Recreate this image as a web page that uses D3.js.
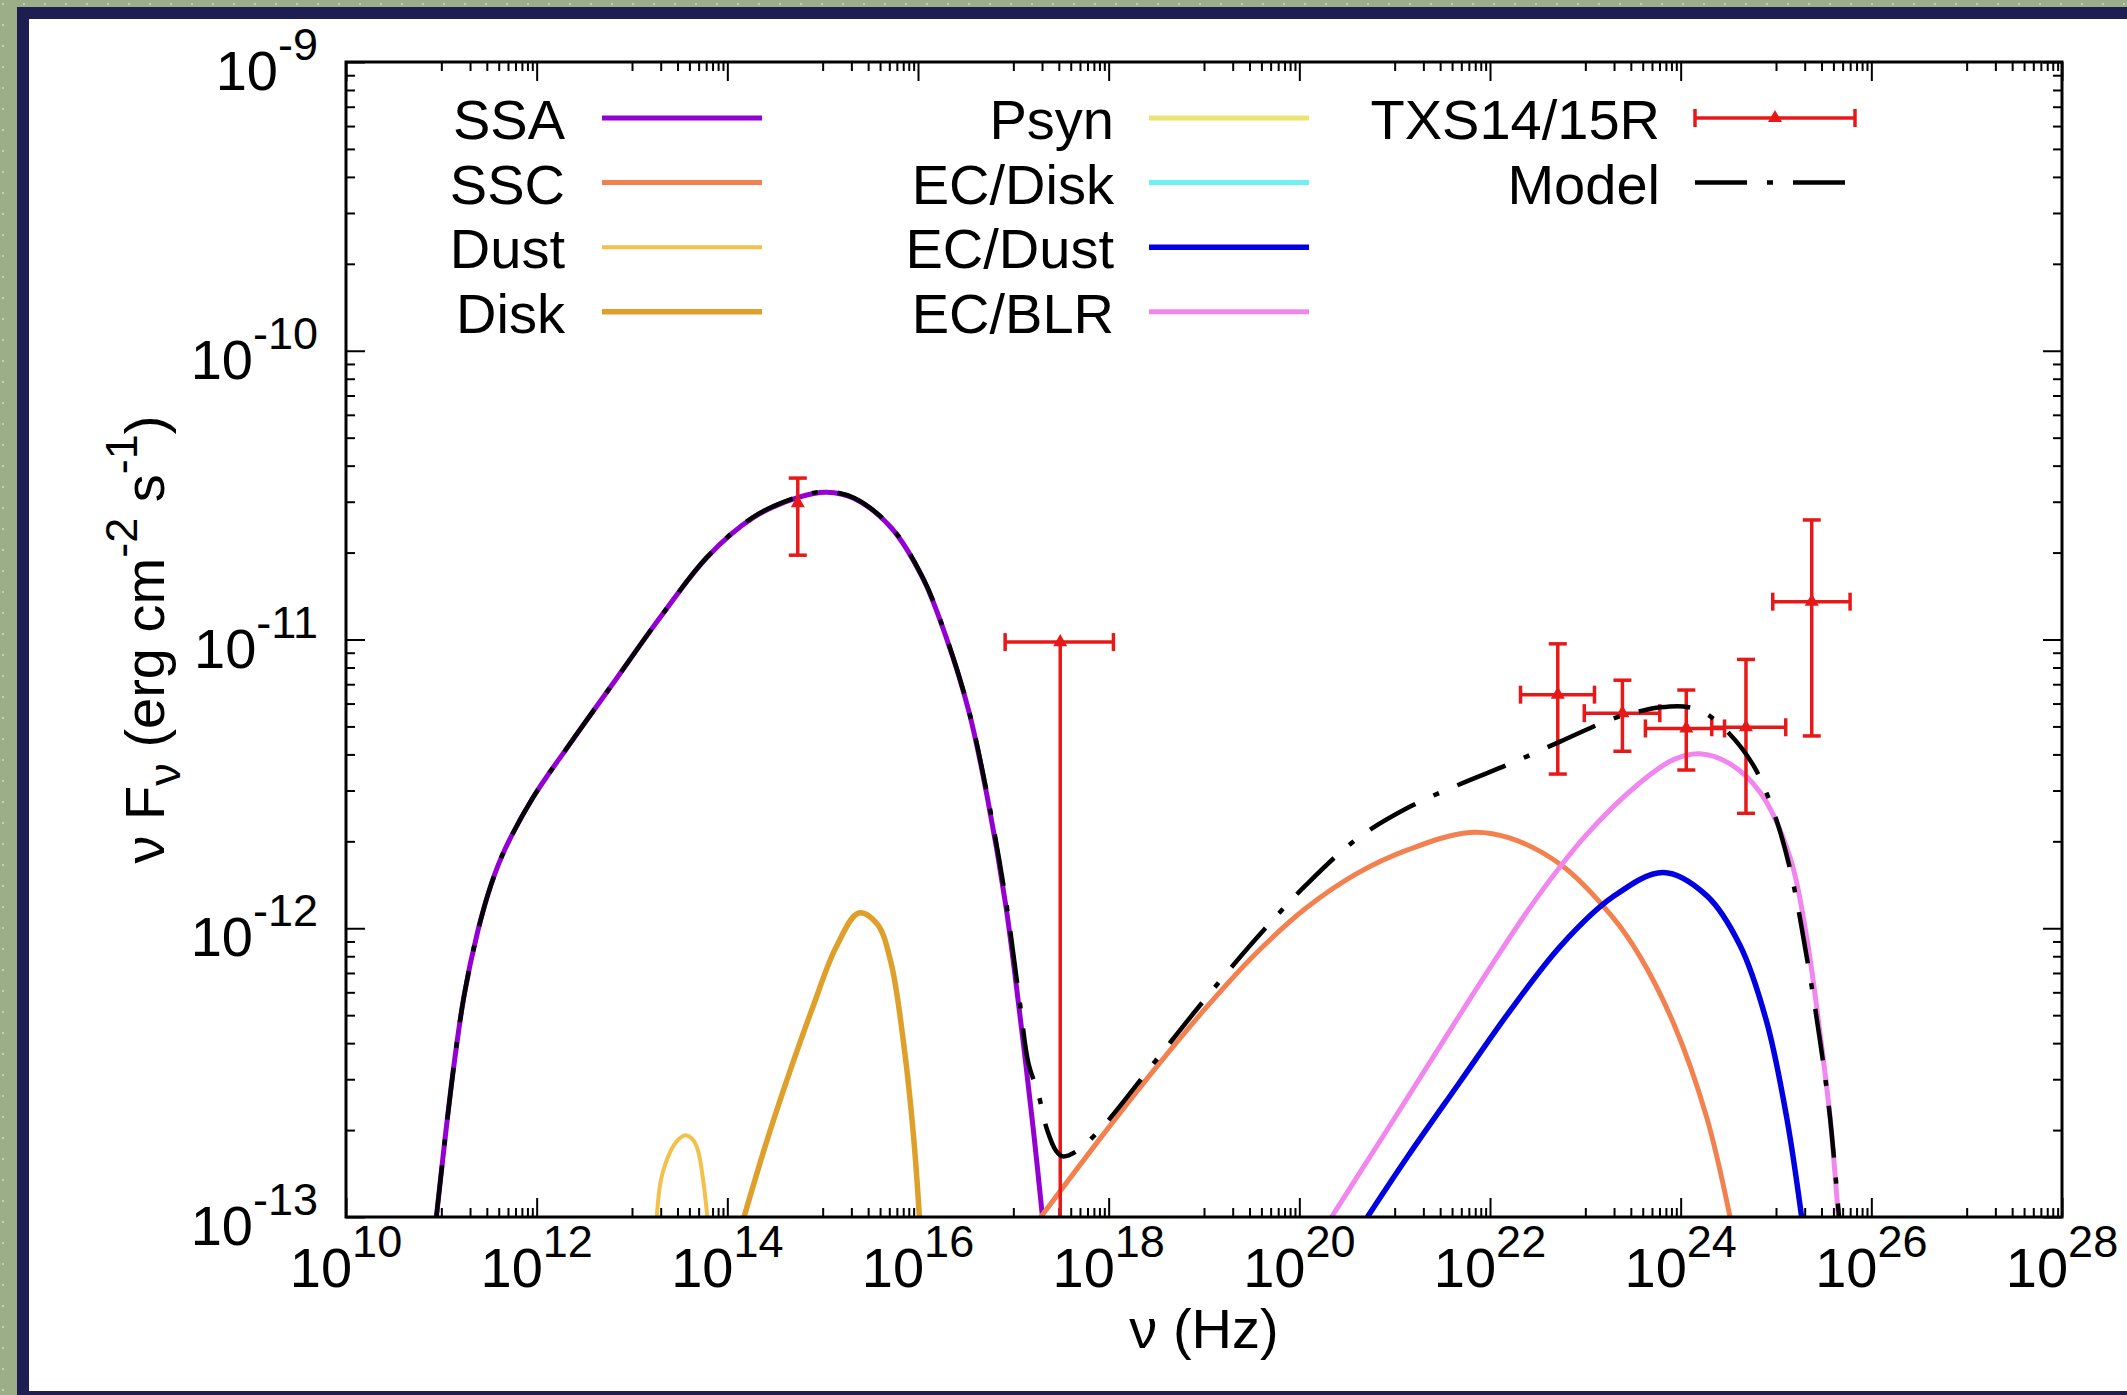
<!DOCTYPE html>
<html>
<head>
<meta charset="utf-8">
<script src="https://cdn.jsdelivr.net/npm/d3@7"></script>
<style>
	body { margin: 0; background: #ffffff; }
	svg text { font-family: "Liberation Sans", Arial, Helvetica, sans-serif; white-space: pre; }
</style>
</head>
<body>
<svg id="chart" width="2127" height="1395"></svg>
<script>

//****************************************************************************************************************************//
// Data : [log10 nu (Hz), log10 nuFnu (erg cm^-2 s^-1)]

var ssa = [[10.948,-13.0],[11.117,-12.513],[11.238,-12.235],[11.381,-12.012],[11.526,-11.845],[11.671,-11.724],
	[11.96,-11.548],[12.345,-11.363],[12.827,-11.14],[13.308,-10.918],[13.79,-10.714],[14.271,-10.578],[14.753,-10.507],
	[15.042,-10.49],[15.331,-10.512],[15.717,-10.612],[16.054,-10.79],[16.295,-10.992],[16.535,-11.251],[16.728,-11.548],
	[16.92,-11.919],[17.065,-12.29],[17.21,-12.698],[17.306,-13.0]];

var ssc = [[17.288,-13.0],[17.93,-12.72],[18.466,-12.495],[19.001,-12.283],[19.536,-12.09],[20.071,-11.93],
	[20.607,-11.81],[21.142,-11.728],[21.785,-11.668],[22.212,-11.688],[22.747,-11.781],[23.282,-11.96],
	[23.577,-12.10],[23.926,-12.33],[24.273,-12.655],[24.518,-13.0]];

var dust = [[13.26,-13.0],[13.308,-12.865],[13.405,-12.772],[13.477,-12.735],[13.563,-12.717],[13.645,-12.735],
	[13.694,-12.772],[13.751,-12.884],[13.79,-13.0]];

var disk = [[14.175,-13.0],[14.416,-12.735],[14.658,-12.494],[14.898,-12.272],[15.139,-12.067],[15.379,-11.947],
	[15.572,-11.985],[15.717,-12.12],[15.861,-12.43],[15.957,-12.735],[16.015,-13.0]];

var psyn = [];		// below 1e-13 over the whole plot
var ecDisk = [];	// below 1e-13 over the whole plot

var ecDust = [[20.714,-13.0],[21.142,-12.788],[21.677,-12.536],[22.212,-12.285],[22.747,-12.059],[23.282,-11.893],
	[23.818,-11.807],[24.273,-11.887],[24.622,-12.059],[24.902,-12.324],[25.112,-12.655],[25.269,-13.0]];

var ecBlr = [[20.338,-13.0],[20.875,-12.722],[21.41,-12.443],[21.945,-12.165],[22.48,-11.9],[23.015,-11.675],
	[23.551,-11.502],[23.925,-11.416],[24.2,-11.396],[24.514,-11.43],[24.835,-11.53],[25.147,-11.754],
	[25.322,-12.032],[25.462,-12.364],[25.567,-12.655],[25.654,-13.0]];

var model = [[10.948,-13.0],[11.117,-12.513],[11.238,-12.235],[11.381,-12.012],[11.526,-11.845],[11.671,-11.724],
	[11.96,-11.548],[12.345,-11.363],[12.827,-11.14],[13.308,-10.918],[13.79,-10.714],[14.271,-10.576],[14.753,-10.505],
	[15.042,-10.488],[15.331,-10.51],[15.717,-10.61],[16.054,-10.788],[16.295,-10.99],[16.535,-11.248],[16.728,-11.54],
	[16.92,-11.9],[17.065,-12.25],[17.16,-12.47],[17.258,-12.568],[17.354,-12.698],[17.45,-12.772],[17.52,-12.79],
	[17.663,-12.772],[17.93,-12.69],[18.466,-12.47],[19.0,-12.25],[19.536,-12.04],[20.071,-11.85],[20.606,-11.69],
	[21.142,-11.582],[21.677,-11.502],[22.212,-11.43],[22.747,-11.352],[23.282,-11.275],[23.577,-11.248],[23.787,-11.235],
	[24.03,-11.232],[24.24,-11.252],[24.485,-11.317],[24.763,-11.436],[24.973,-11.595],[25.147,-11.794],[25.322,-12.099],
	[25.462,-12.39],[25.567,-12.655],[25.661,-13.0]];

// TXS 0506+056 data (log values), fLo = -14 means the bar runs off the bottom
var txsPoints = [
	{nu:14.739, f:-10.528, nuLo:14.739, nuHi:14.739, fLo:-10.708, fHi:-10.441},
	{nu:17.492, f:-11.009, nuLo:16.914, nuHi:18.05,  fLo:-14,     fHi:-11.009},
	{nu:22.711, f:-11.191, nuLo:22.32,  nuHi:23.096, fLo:-11.466, fHi:-11.015},
	{nu:23.389, f:-11.255, nuLo:22.989, nuHi:23.781, fLo:-11.387, fHi:-11.141},
	{nu:24.059, f:-11.308, nuLo:23.63,  nuHi:24.46,  fLo:-11.452, fHi:-11.175},
	{nu:24.685, f:-11.304, nuLo:24.326, nuHi:25.102, fLo:-11.602, fHi:-11.069},
	{nu:25.375, f:-10.869, nuLo:24.966, nuHi:25.777, fLo:-11.334, fHi:-10.586}
];

var xTickExps = [10,12,14,16,18,20,22,24,26,28];
var yTickExps = [-9,-10,-11,-12,-13];

var legendColumns = [["SSA","SSC","Dust","Disk"], ["Psyn","EC/Disk","EC/Dust","EC/BLR"], ["TXS14/15R","Model"]];

var seriesData = {"SSA": ssa, "SSC": ssc, "Dust": dust, "Disk": disk, "Psyn": psyn,
	"EC/Disk": ecDisk, "EC/Dust": ecDust, "EC/BLR": ecBlr};
var seriesOrder = ["SSA","SSC","Dust","Disk","Psyn","EC/Disk","EC/Dust","EC/BLR"];

//****************************************************************************************************************************//
// Styles

var styles = {
	"SSA":     {color: "#9400d3", width: 5},
	"SSC":     {color: "#f2814f", width: 5},
	"Dust":    {color: "#f3c14b", width: 4},
	"Disk":    {color: "#dea02a", width: 5.5},
	"Psyn":    {color: "#ece373", width: 5},
	"EC/Disk": {color: "#6ff0f3", width: 5},
	"EC/Dust": {color: "#0000e0", width: 5.5},
	"EC/BLR":  {color: "#f186ee", width: 5},
	"Model":   {color: "#000000", width: 4.5, dash: "52,20,6,20"},
	"TXS14/15R": {color: "#e81818", width: 3.5}
};

var width = 2127, height = 1395;
var plot = {left: 346, right: 2062, top: 62, bottom: 1217};
var fontSize = 56, supSize = 45;

var canvas = d3.select("#chart");

//****************************************************************************************************************************//
// Page background

canvas.append("rect")
	.attr("width", width)
	.attr("height", height)
	.attr("fill", "#9bae87");

var defs = canvas.append("defs");
var dots = defs.append("pattern")
	.attr("id", "dots")
	.attr("width", 21)
	.attr("height", 21)
	.attr("patternUnits", "userSpaceOnUse");
dots.append("rect")
	.attr("x", 2).attr("y", 3)
	.attr("width", 2).attr("height", 2)
	.attr("fill", "#c4d0b5");
canvas.append("rect")
	.attr("width", width)
	.attr("height", height)
	.attr("fill", "url(#dots)");

canvas.append("rect")
	.attr("x", 17).attr("y", 7)
	.attr("width", width - 17).attr("height", height - 7)
	.attr("fill", "#1f1e52");

canvas.append("rect")
	.attr("x", 29).attr("y", 19)
	.attr("width", width - 29).attr("height", height - 19 - 4)
	.attr("fill", "#ffffff");

defs.append("clipPath")
	.attr("id", "plotClip")
	.append("rect")
	.attr("x", plot.left).attr("y", plot.top)
	.attr("width", plot.right - plot.left).attr("height", plot.bottom - plot.top);

//****************************************************************************************************************************//
// Scales and axes

var xScale = d3.scaleLog().domain([1e10, 1e28]).range([plot.left, plot.right]);
var yScale = d3.scaleLog().domain([1e-13, 1e-9]).range([plot.bottom, plot.top]);

function px(d) { return xScale(Math.pow(10, d)); }
function py(d) { return yScale(Math.pow(10, d)); }

var xMajor = xTickExps.map(function(e){ return Math.pow(10, e); });
var xMinor = [];
xTickExps.slice(0, -1).forEach(function(e){
	for(var m = 1; m <= 9; m++) xMinor.push(m * Math.pow(10, e + 1));
});
var yMajor = yTickExps.map(function(e){ return Math.pow(10, e); });
var yMinor = [];
yTickExps.slice(1).forEach(function(e){
	for(var m = 2; m <= 9; m++) yMinor.push(m * Math.pow(10, e));
});

function drawTicks(axis, transform, values, size){
	var g = canvas.append("g")
		.attr("transform", transform)
		.call(axis.tickValues(values).tickSize(size).tickFormat(""));
	g.select(".domain").remove();
	g.selectAll(".tick line").attr("stroke", "#000").attr("stroke-width", 2);
}

drawTicks(d3.axisBottom(xScale), "translate(0," + plot.bottom + ")", xMajor, -19);
drawTicks(d3.axisBottom(xScale), "translate(0," + plot.bottom + ")", xMinor, -9);
drawTicks(d3.axisTop(xScale), "translate(0," + plot.top + ")", xMajor, -19);
drawTicks(d3.axisTop(xScale), "translate(0," + plot.top + ")", xMinor, -9);
drawTicks(d3.axisLeft(yScale), "translate(" + plot.left + ",0)", yMajor, -19);
drawTicks(d3.axisLeft(yScale), "translate(" + plot.left + ",0)", yMinor, -9);
drawTicks(d3.axisRight(yScale), "translate(" + plot.right + ",0)", yMajor, -19);
drawTicks(d3.axisRight(yScale), "translate(" + plot.right + ",0)", yMinor, -9);

// tick labels
xTickExps.forEach(function(e){
	var t = canvas.append("text")
		.attr("x", xScale(Math.pow(10, e)))
		.attr("y", plot.bottom + 70)
		.attr("text-anchor", "middle")
		.style("font-size", fontSize + "px");
	t.append("tspan").text("10");
	t.append("tspan").attr("dy", -30).style("font-size", supSize + "px").text(e);
});

yTickExps.forEach(function(e){
	var t = canvas.append("text")
		.attr("x", 318)
		.attr("y", yScale(Math.pow(10, e)) + 28)
		.attr("text-anchor", "end")
		.style("font-size", fontSize + "px");
	t.append("tspan").text("10");
	t.append("tspan").attr("dy", -30).style("font-size", supSize + "px").text(e);
});

// axis titles
canvas.append("text")
	.attr("x", (plot.left + plot.right) / 2)
	.attr("y", 1348)
	.attr("text-anchor", "middle")
	.style("font-size", fontSize + "px")
	.text("ν (Hz)");

var yTitle = canvas.append("text")
	.attr("transform", "translate(164," + ((plot.top + plot.bottom) / 2) + ") rotate(-90)")
	.attr("text-anchor", "middle")
	.style("font-size", fontSize + "px");
yTitle.append("tspan").text("ν F");
yTitle.append("tspan").attr("dy", 16).style("font-size", supSize + "px").text("ν");
yTitle.append("tspan").attr("dy", -16).text(" (erg cm");
yTitle.append("tspan").attr("dy", -27).style("font-size", supSize + "px").text("-2");
yTitle.append("tspan").attr("dy", 27).text(" s");
yTitle.append("tspan").attr("dy", -27).style("font-size", supSize + "px").text("-1");
yTitle.append("tspan").attr("dy", 27).text(")");

//****************************************************************************************************************************//
// Curves

var plotArea = canvas.append("g").attr("clip-path", "url(#plotClip)");

var lineGen = d3.line()
	.x(function(d){ return px(d[0]); })
	.y(function(d){ return py(d[1]); })
	.curve(d3.curveCatmullRom.alpha(0.5));

seriesOrder.forEach(function(name){
	var data = seriesData[name];
	if(data.length == 0) return;
	plotArea.append("path")
		.attr("d", lineGen(data))
		.attr("fill", "none")
		.attr("stroke", styles[name].color)
		.attr("stroke-width", styles[name].width)
		.attr("stroke-linejoin", "round");
});

//****************************************************************************************************************************//
// Data points

var red = styles["TXS14/15R"].color;
var capHalf = 9;
var tri = d3.symbol().type(d3.symbolTriangle).size(85);

txsPoints.forEach(function(p){
	var x = px(p.nu), y = py(p.f);
	var g = plotArea.append("g")
		.attr("stroke", red)
		.attr("stroke-width", styles["TXS14/15R"].width);

	// vertical bar
	g.append("line")
		.attr("x1", x).attr("x2", x)
		.attr("y1", py(p.fLo)).attr("y2", py(p.fHi));
	[p.fLo, p.fHi].forEach(function(v){
		if(v != p.f && v > -13){
			g.append("line")
				.attr("x1", x - capHalf).attr("x2", x + capHalf)
				.attr("y1", py(v)).attr("y2", py(v));
		}
	});

	// horizontal bar
	if(p.nuLo != p.nuHi){
		g.append("line")
			.attr("x1", px(p.nuLo)).attr("x2", px(p.nuHi))
			.attr("y1", y).attr("y2", y);
		[p.nuLo, p.nuHi].forEach(function(v){
			g.append("line")
				.attr("x1", px(v)).attr("x2", px(v))
				.attr("y1", y - capHalf).attr("y2", y + capHalf);
		});
	}

	plotArea.append("path")
		.attr("d", tri())
		.attr("transform", "translate(" + x + "," + y + ")")
		.attr("fill", red);
});

// Model on top
plotArea.append("path")
	.attr("d", lineGen(model))
	.attr("fill", "none")
	.attr("stroke", styles["Model"].color)
	.attr("stroke-width", styles["Model"].width)
	.attr("stroke-dasharray", styles["Model"].dash);

// frame
canvas.append("rect")
	.attr("x", plot.left).attr("y", plot.top)
	.attr("width", plot.right - plot.left).attr("height", plot.bottom - plot.top)
	.attr("fill", "none")
	.attr("stroke", "#000")
	.attr("stroke-width", 3);

//****************************************************************************************************************************//
// Legend

var legendTextRight = [565, 1114, 1660];
var legendLineStart = [602, 1149, 1695];
var legendLineLength = 160;
var legendTop = 118, legendRowStep = 64.6;

legendColumns.forEach(function(col, ci){
	col.forEach(function(name, ri){
		var yRow = legendTop + ri * legendRowStep;
		var st = styles[name];
		var x0 = legendLineStart[ci], x1 = x0 + legendLineLength;

		canvas.append("text")
			.attr("x", legendTextRight[ci])
			.attr("y", yRow + 21)
			.attr("text-anchor", "end")
			.style("font-size", fontSize + "px")
			.text(name);

		if(name == "TXS14/15R"){
			var g = canvas.append("g").attr("stroke", st.color).attr("stroke-width", st.width);
			g.append("line").attr("x1", x0).attr("x2", x1).attr("y1", yRow).attr("y2", yRow);
			g.append("line").attr("x1", x0).attr("x2", x0).attr("y1", yRow - capHalf).attr("y2", yRow + capHalf);
			g.append("line").attr("x1", x1).attr("x2", x1).attr("y1", yRow - capHalf).attr("y2", yRow + capHalf);
			canvas.append("path")
				.attr("d", tri())
				.attr("transform", "translate(" + ((x0 + x1) / 2) + "," + yRow + ")")
				.attr("fill", st.color);
		} else {
			canvas.append("line")
				.attr("x1", x0).attr("x2", x1)
				.attr("y1", yRow).attr("y2", yRow)
				.attr("stroke", st.color)
				.attr("stroke-width", st.width)
				.attr("stroke-dasharray", st.dash ? st.dash : null);
		}
	});
});

</script>
</body>
</html>
